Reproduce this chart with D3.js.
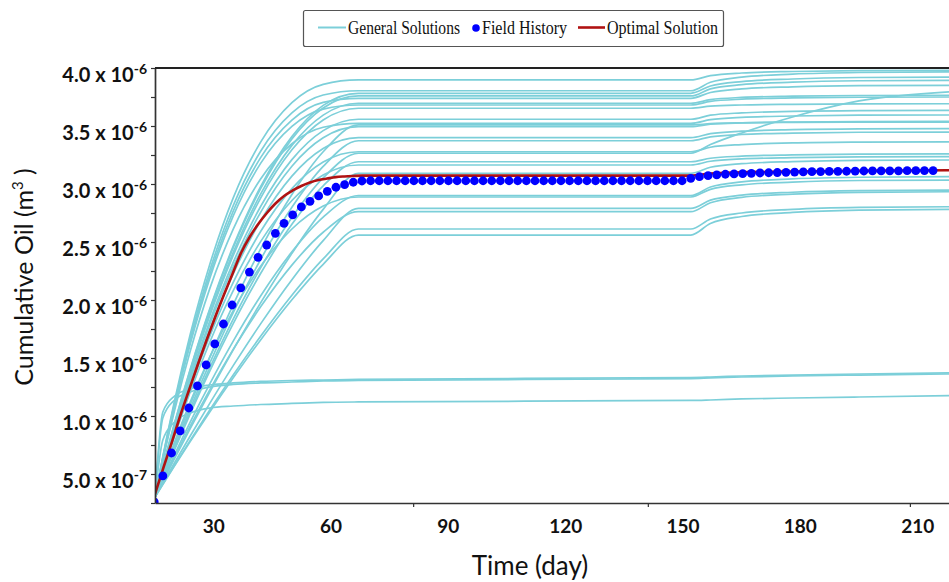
<!DOCTYPE html>
<html><head><meta charset="utf-8">
<script src="https://cdn.jsdelivr.net/npm/d3@7"></script>
<style>body{margin:0;background:#fff}svg{display:block}</style>
</head><body><svg id="chart" width="949" height="582"></svg>
<script>
// values in units of 1e-6 m^3, time in days
const genDays = [15,17,20,24,29,35,42,50,58,67,152,157,165,178,195,218];
const generalSolutions = [
 [0.302,0.651,1.133,1.703,2.306,2.880,3.361,3.701,3.859,3.897,3.897,3.934,3.957,3.970,3.978,3.980],
 [0.302,0.642,1.112,1.667,2.254,2.813,3.282,3.613,3.767,3.804,3.804,3.877,3.921,3.947,3.961,3.966],
 [0.302,0.565,0.939,1.402,1.924,2.464,2.978,3.410,3.678,3.782,3.782,3.845,3.883,3.905,3.918,3.922],
 [0.302,0.563,0.935,1.395,1.913,2.450,2.960,3.389,3.655,3.759,3.759,3.820,3.856,3.878,3.890,3.894],
 [0.302,0.636,1.097,1.642,2.218,2.766,3.227,3.551,3.703,3.739,3.739,3.789,3.820,3.838,3.848,3.851],
 [0.302,0.558,0.923,1.375,1.884,2.411,2.912,3.333,3.594,3.696,3.696,3.727,3.746,3.757,3.763,3.765],
 [0.302,0.630,1.083,1.619,2.186,2.725,3.178,3.497,3.646,3.681,3.681,3.712,3.731,3.742,3.748,3.750],
 [0.302,0.555,0.916,1.362,1.864,2.384,2.879,3.295,3.552,3.653,3.653,3.671,3.681,3.687,3.691,3.692],
 [0.302,0.548,0.898,1.332,1.819,2.325,2.806,3.210,3.460,3.558,3.558,3.593,3.613,3.626,3.633,3.635],
 [0.302,0.615,1.047,1.558,2.098,2.611,3.043,3.347,3.489,3.523,3.523,3.555,3.575,3.586,3.593,3.595],
 [0.302,0.485,0.754,1.097,1.506,1.961,2.440,2.910,3.278,3.509,3.509,3.520,3.527,3.531,3.533,3.534],
 [0.302,0.543,0.886,1.311,1.789,2.285,2.756,3.153,3.398,3.494,3.494,3.515,3.527,3.534,3.539,3.540],
 [0.302,0.536,0.869,1.281,1.745,2.226,2.683,3.068,3.306,3.399,3.399,3.434,3.455,3.468,3.475,3.477],
 [0.302,0.478,0.734,1.064,1.455,1.891,2.349,2.799,3.152,3.373,3.373,3.407,3.427,3.439,3.446,3.448],
 [0.302,0.527,0.847,1.243,1.689,2.151,2.590,2.960,3.189,3.278,3.278,3.317,3.340,3.354,3.361,3.364],
 [0.302,0.471,0.719,1.037,1.414,1.835,2.277,2.711,3.052,3.265,3.265,3.340,3.440,3.578,3.716,3.795],
 [0.302,0.467,0.709,1.019,1.387,1.797,2.228,2.652,2.984,3.192,3.192,3.222,3.240,3.251,3.257,3.259],
 [0.302,0.518,0.826,1.207,1.636,2.080,2.503,2.858,3.078,3.164,3.164,3.196,3.216,3.227,3.234,3.236],
 [0.302,0.436,0.633,0.892,1.207,1.571,1.975,2.402,2.781,3.092,3.092,3.144,3.175,3.193,3.204,3.207],
 [0.302,0.451,0.668,0.947,1.277,1.646,2.035,2.415,2.714,2.901,2.901,2.974,3.018,3.044,3.058,3.063],
 [0.302,0.497,0.776,1.120,1.507,1.909,2.290,2.612,2.810,2.888,2.888,2.954,2.993,3.016,3.030,3.034],
 [0.302,0.421,0.597,0.828,1.109,1.434,1.794,2.175,2.512,2.790,2.790,2.861,2.904,2.929,2.943,2.948],
 [0.302,0.443,0.648,0.912,1.225,1.574,1.941,2.301,2.584,2.761,2.761,2.838,2.885,2.912,2.928,2.933],
 [0.302,0.413,0.576,0.790,1.051,1.353,1.687,2.041,2.354,2.612,2.612,2.698,2.750,2.781,2.798,2.804],
 [0.302,0.410,0.570,0.779,1.034,1.329,1.656,2.002,2.308,2.560,2.560,2.660,2.720,2.755,2.775,2.782],
 [0.302,0.983,1.138,1.207,1.250,1.272,1.285,1.293,1.302,1.306,1.323,1.328,1.336,1.345,1.353,1.362],
 [0.302,1.034,1.172,1.233,1.267,1.285,1.298,1.306,1.310,1.315,1.332,1.336,1.345,1.353,1.362,1.371],
 [0.302,0.793,0.948,1.026,1.069,1.086,1.099,1.108,1.117,1.121,1.134,1.138,1.147,1.155,1.164,1.175]
];
const optDays = [15,17.2,19.4,21.6,23.8,26,28.2,30.4,32.6,34.8,37,39.2,41.4,43.6,45.8,48,50.2,52.4,54.6,56.8,59,61.2,63.4,65.6,68,152,157,165,178,195,218];
const optValues = [0.327,0.560,0.784,1.017,1.233,1.448,1.655,1.854,2.043,2.224,2.405,2.543,2.655,2.750,2.832,2.897,2.944,2.983,3.013,3.034,3.047,3.059,3.065,3.069,3.072,3.072,3.090,3.100,3.108,3.114,3.118];
const fieldStart = 14.8, fieldStep = 2.2126;
const fieldValues = [0.259,0.483,0.681,0.871,1.069,1.259,1.440,1.621,1.793,1.957,2.104,2.241,2.368,2.474,2.575,2.661,2.733,2.802,2.851,2.897,2.937,2.972,2.994,3.015,3.026,
 3.028,3.028,3.028,3.028,3.028,3.028,3.028,3.028,3.028,3.028,3.028,3.028,3.028,3.028,3.028,3.028,3.028,3.028,3.028,
 3.028,3.028,3.028,3.028,3.028,3.028,3.028,3.028,3.028,3.028,3.028,3.028,3.028,3.028,3.028,3.028,3.028,3.028,
 3.049,3.063,3.072,3.078,3.084,3.087,3.089,3.092,3.095,3.097,3.099,3.101,3.103,3.104,3.106,3.107,3.108,3.109,3.110,
 3.111,3.112,3.113,3.113,3.114,3.114,3.115,3.115,3.116,3.116];
const yTickValues = [0.5,1.0,1.5,2.0,2.5,3.0,3.5,4.0];
const yTickLabels = [["5.0","-7"],["1.0","-6"],["1.5","-6"],["2.0","-6"],["2.5","-6"],["3.0","-6"],["3.5","-6"],["4.0","-6"]];
const yMinorTicks = [0.25,0.5,0.75,1.0,1.25,1.5,1.75,2.0,2.25,2.5,2.75,3.0,3.25,3.5,3.75,4.0];
const xTickValues = [30,60,90,120,150,180,210];
const xTickMarks = [81,141,208];
const legendItems = ["General Solutions","Field History","Optimal Solution"];

const svg = d3.select("#chart");
const L = 155, R = 949, T = 68, B = 503;
const x = d3.scaleLinear().domain([15,218]).range([L,R]);
const y = d3.scaleLinear().domain([0.25,4.0]).range([B,T]);
const cyan = "#7ccfd9", red = "#b01212", blue = "#0000ff";

svg.append("defs").append("clipPath").attr("id","plot")
  .append("rect").attr("x",L).attr("y",T-4).attr("width",R-L+2).attr("height",B-T+4);

const g = svg.append("g").attr("clip-path","url(#plot)");
const line = d3.line().curve(d3.curveMonotoneX);

generalSolutions.forEach(vals => {
  g.append("path")
    .attr("d", line(vals.map((v,i)=>[x(genDays[i]), y(v)])))
    .attr("fill","none").attr("stroke",cyan).attr("stroke-width",1.7);
});

g.append("path")
  .attr("d", line(optValues.map((v,i)=>[x(optDays[i]), y(v)])))
  .attr("fill","none").attr("stroke",red).attr("stroke-width",2.6);

g.selectAll("circle.fh").data(fieldValues).enter().append("circle")
  .attr("class","fh")
  .attr("cx",(v,i)=>x(fieldStart + i*fieldStep))
  .attr("cy",v=>y(v)).attr("r",4.4).attr("fill",blue);

// axes
const axisColor = "#333";
const yAx = svg.append("g").attr("transform",`translate(${L},0)`)
  .call(d3.axisLeft(y).tickValues(yMinorTicks).tickSize(4).tickSizeOuter(0).tickFormat(""));
yAx.select(".domain").attr("stroke",axisColor).attr("stroke-width",1.7);
yAx.selectAll(".tick line").attr("stroke",axisColor).attr("stroke-width",1.2);

const xAx = svg.append("g").attr("transform",`translate(0,${B})`)
  .call(d3.axisBottom(x).tickValues(xTickMarks).tickSize(4).tickSizeOuter(0).tickFormat(""));
xAx.select(".domain").attr("stroke",axisColor).attr("stroke-width",1.7);
xAx.selectAll(".tick line").attr("stroke",axisColor).attr("stroke-width",1.2);

// top border
svg.append("line").attr("x1",L).attr("x2",R).attr("y1",T).attr("y2",T)
  .attr("stroke","#222").attr("stroke-width",2);

// y tick labels
const yl = svg.append("g").attr("font-family","Lato, 'Open Sans', sans-serif")
  .attr("font-weight","bold").attr("fill","#111");
yTickValues.forEach((v,i)=>{
  const t = yl.append("text").attr("x",147).attr("y",y(v)+14)
    .attr("text-anchor","end").attr("font-size",20);
  t.append("tspan").text(yTickLabels[i][0] + " x 10");
  t.append("tspan").attr("dy",-8).attr("font-size",14).text(yTickLabels[i][1]);
});

// x tick labels
const xl = svg.append("g").attr("font-family","Lato, 'Open Sans', sans-serif")
  .attr("font-weight","bold").attr("font-size",19).attr("fill","#111");
xTickValues.forEach(v=>{
  xl.append("text").attr("x",x(v)).attr("y",533).attr("text-anchor","middle").text(v);
});

// axis titles
svg.append("text").attr("x",530).attr("y",575).attr("text-anchor","middle")
  .attr("font-family","Lato, 'Open Sans', sans-serif").attr("font-size",26).attr("fill","#111")
  .text("Time (day)");
const yt = svg.append("text").attr("transform","translate(33,277) rotate(-90)")
  .attr("text-anchor","middle").attr("font-family","Lato, 'Open Sans', sans-serif")
  .attr("font-size",25).attr("fill","#111");
yt.append("tspan").text("Cumulative Oil (m");
yt.append("tspan").attr("dy",-10).attr("font-size",15).text("3");
yt.append("tspan").attr("dy",10).text(" )");

// legend
const lg = svg.append("g").attr("font-family","'Liberation Serif', 'Times New Roman', serif")
  .attr("font-size",18).attr("fill","#111");
lg.append("rect").attr("x",303.5).attr("y",10.5).attr("width",420).attr("height",36)
  .attr("rx",2).attr("fill","#fff").attr("stroke","#555").attr("stroke-width",1.2);
lg.append("line").attr("x1",318).attr("x2",346).attr("y1",27.5).attr("y2",27.5)
  .attr("stroke",cyan).attr("stroke-width",2);
lg.append("text").attr("x",348).attr("y",34).attr("textLength",112).attr("lengthAdjust","spacingAndGlyphs").text(legendItems[0]);
lg.append("circle").attr("cx",476).attr("cy",28).attr("r",3.8).attr("fill",blue);
lg.append("text").attr("x",482).attr("y",34).attr("textLength",85).attr("lengthAdjust","spacingAndGlyphs").text(legendItems[1]);
lg.append("line").attr("x1",578).attr("x2",605).attr("y1",27.5).attr("y2",27.5)
  .attr("stroke",red).attr("stroke-width",2.6);
lg.append("text").attr("x",607).attr("y",34).attr("textLength",111).attr("lengthAdjust","spacingAndGlyphs").text(legendItems[2]);
</script></body></html>
